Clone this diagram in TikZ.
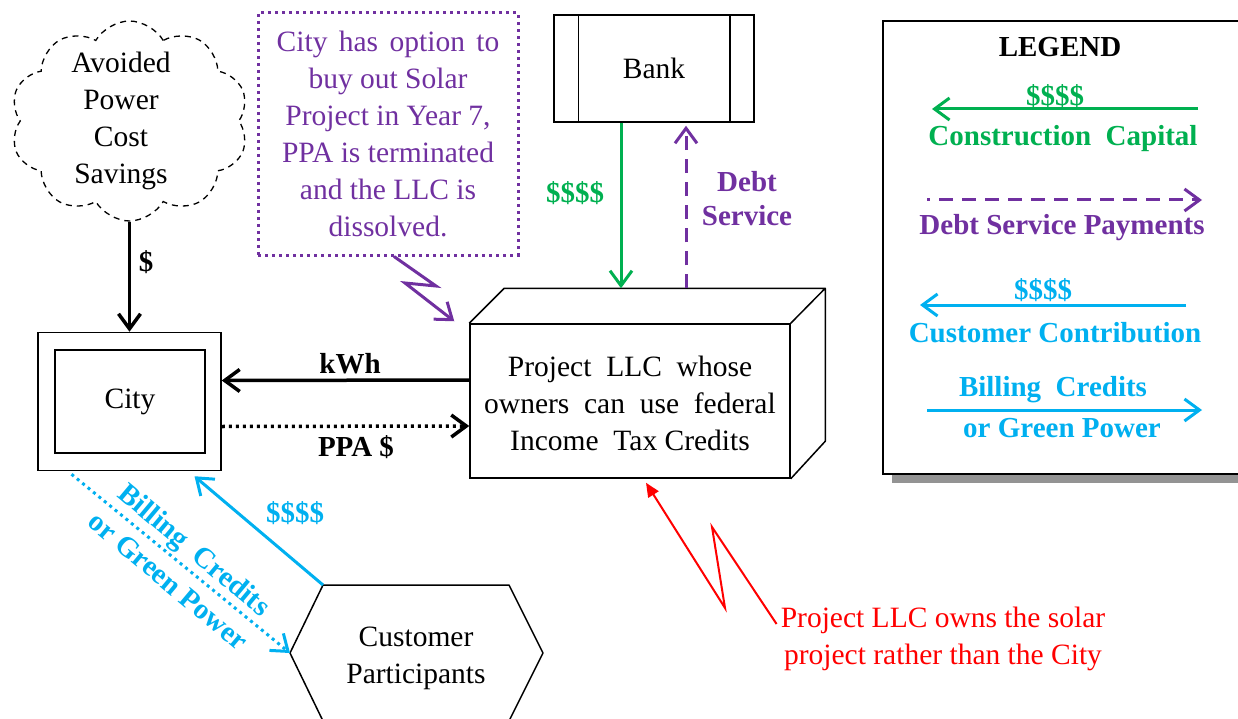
\documentclass[tikz,border=0pt]{standalone}
\usepackage{fontspec}
\setmainfont{Liberation Serif}
\usetikzlibrary{arrows.meta,shapes.symbols}
\definecolor{cgreen}{HTML}{00B050}
\definecolor{cpurple}{HTML}{7030A0}
\definecolor{ccyan}{HTML}{00B0F0}
\definecolor{cred}{HTML}{FF0000}
\tikzset{
  txt/.style={font=\fontsize{29.5}{37}\selectfont, align=center, inner sep=0pt},
  btxt/.style={font=\fontsize{29}{37}\selectfont\bfseries, align=center, inner sep=0pt},
  barb/.style={-{Straight Barb[length=15pt,width=22pt]}},
  boxline/.style={draw, line width=1.5pt},
  dotline/.style={dash pattern=on 3pt off 4pt},
  dashline/.style={dash pattern=on 14pt off 9pt},
}
\begin{document}
\begin{tikzpicture}[x=1pt,y=-1pt]
\useasboundingbox (0,0) rectangle (1238,719);

% ---- legend box with shadow
\fill[gray!85] (892,30) rectangle (1250,483);
\node[boxline, fill=white, minimum width=358pt, minimum height=453pt, inner sep=0pt] (legend) at (1062,247.5) {};

% ---- cloud
\node[cloud, draw, dash pattern=on 6pt off 5pt, line width=1.3pt, cloud puffs=10, cloud puff arc=120,
      minimum width=238pt, minimum height=200pt, inner sep=0pt] (cloud) at (129.5,121) {};
\node[txt] (cloudtxt) at (121,121) {Avoided\\Power\\Cost\\Savings};

% ---- City
\node[boxline, minimum width=183pt, minimum height=138pt, inner sep=0pt] (city) at (129.5,401.5) {};
\node[boxline, minimum width=150pt, minimum height=103pt, txt] (cityin) at (130,401.5) {City};

% ---- Project LLC (3D box)
\node[boxline, minimum width=320pt, minimum height=154pt, txt] (llc) at (630,401) {};
\node[txt] (llctxt) at (630,403) {Project\ \ LLC\ \ whose\\owners\ \ can\ \ use\ \ federal\\Income\ \ Tax\ Credits};
\draw[line width=1.5pt, line join=round] (llc.north west) -- ++(35,-35) coordinate (topL)
  -- ++(321,0) coordinate (topR) -- (llc.north east)
  (topR) -- ++(0,153) -- (llc.south east);

% ---- Bank
\node[boxline, minimum width=200pt, minimum height=107pt, txt] (bank) at (654,68.5) {Bank};
\draw[line width=1.5pt] ([xshift=25pt]bank.north west) -- ([xshift=25pt]bank.south west)
  ([xshift=-25pt]bank.north east) -- ([xshift=-25pt]bank.south east);

% ---- note box
\node[draw=cpurple, line width=3pt, dotline, minimum width=260pt, minimum height=242pt, txt, text=cpurple] (note) at (388,134)
  {City\hspace{4pt} has\hspace{4pt} option\hspace{4pt} to\\buy out Solar\\Project in Year 7,\\PPA is terminated\\and the LLC is\\dissolved.};

% ---- Customer hexagon
\coordinate (cTL) at (323,585);
\coordinate (cTR) at (509,585);
\coordinate (cR) at (543,653);
\coordinate (cBR) at (509,721);
\coordinate (cBL) at (323,721);
\coordinate (cL) at (290,653);
\draw[line width=1.5pt, line join=round] (cTL) -- (cTR) -- (cR) -- (cBR) -- (cBL) -- (cL) -- cycle;
\node[txt] (cust) at (416,658) {Customer\\Participants};

% ---- connectors
\draw[line width=3.5pt, barb] (cloud.south) -- (city.north);
\node[btxt] (dollar) at (146,262) {\$};

\draw[line width=3.5pt, barb] ([yshift=21pt]llc.west) -- ([yshift=21pt]city.east);
\node[btxt] (kwh) at (350,364) {kWh};
\draw[line width=3.5pt, dotline, barb] ([yshift=-25pt]city.east) -- ([yshift=-25pt]llc.west);
\node[btxt] (ppa) at (356,447) {PPA \$};

\draw[cgreen, line width=3pt, barb] ([xshift=-33pt]bank.south) -- ([xshift=-33pt]bank.south |- topL);
\node[btxt, text=cgreen] (g4) at (575,193) {\$\$\$\$};
\draw[cpurple, line width=3pt, dashline, barb] ([xshift=32pt]bank.south |- topL) -- ([xshift=32pt,yshift=-3pt]bank.south);
\node[btxt, text=cpurple, font=\fontsize{29}{34}\selectfont\bfseries] (debt) at (747,199) {Debt\\Service};

\draw[cpurple, line width=3pt, barb, line join=miter] ([xshift=6pt]note.south) -- (436,286) -- (405,283) -- ([xshift=-15pt,yshift=2pt]llc.north west);

\node[txt, text=cred] (redtxt) at (943,639) {Project\ LLC\ owns\ the\ solar\\project rather than the City};
\draw[cred, line width=2pt, line join=miter, -{Triangle[length=14pt,width=12pt]}]
  ([xshift=-4pt,yshift=15pt]redtxt.west) -- (712,527) -- (725,608) -- ([xshift=16pt,yshift=-4pt]llc.south);

\draw[ccyan, line width=3pt, barb] (cTL) -- ([xshift=65pt,yshift=-5pt]city.south);
\node[btxt, text=ccyan] (c4) at (295,513) {\$\$\$\$};
\draw[ccyan, line width=3pt, dotline, barb] ([xshift=-58pt,yshift=-3pt]city.south) -- (cL);
\node[btxt, text=ccyan, rotate=-40, font=\fontsize{29}{41}\selectfont\bfseries] (bill) at (182,565) {Billing\ \ Credits\\or Green Power};

% ---- legend contents
\node[btxt] (lgtitle) at (1060,47) {LEGEND};
\coordinate (l1a) at (1198,109);
\coordinate (l1b) at (932,109);
\draw[cgreen, line width=3pt, barb] (l1a) -- (l1b);
\node[btxt, text=cgreen] (l1d) at (1055,96) {\$\$\$\$};
\node[btxt, text=cgreen] (l1t) at (1063,139) {Construction\ \ Capital};

\coordinate (l2a) at (927,200);
\coordinate (l2b) at (1202,200);
\draw[cpurple, line width=3pt, dashline, dash phase=11pt, barb] (l2a) -- (l2b);
\node[btxt, text=cpurple] (l2t) at (1062,228) {Debt Service Payments};

\coordinate (l3a) at (1186,305);
\coordinate (l3b) at (920,305);
\draw[ccyan, line width=3pt, barb] (l3a) -- (l3b);
\node[btxt, text=ccyan] (l3d) at (1043,290) {\$\$\$\$};
\node[btxt, text=ccyan] (l3t) at (1055,333) {Customer Contribution};

\coordinate (l4a) at (927,410);
\coordinate (l4b) at (1202,410);
\draw[ccyan, line width=3pt, barb] (l4a) -- (l4b);
\node[btxt, text=ccyan] (l4t) at (1053,390) {Billing\ \ Credits};
\node[btxt, text=ccyan] (l4u) at (1062,428) {or Green Power};
\end{tikzpicture}
\end{document}
